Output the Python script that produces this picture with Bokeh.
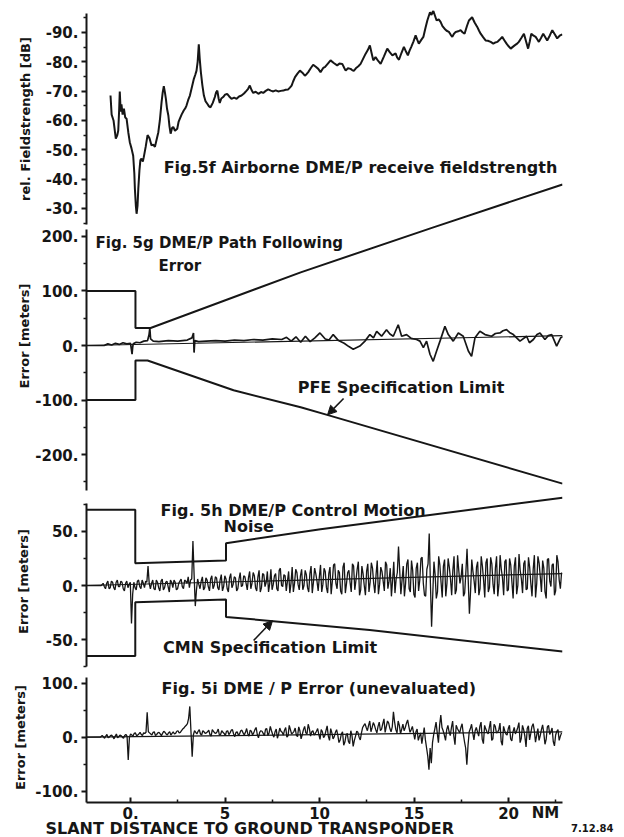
import numpy as np
from bokeh.plotting import figure
from bokeh.layouts import column, row
from bokeh.models import Range1d, FixedTicker, Label, Arrow, NormalHead
from bokeh.embed import file_html
from bokeh.resources import INLINE

FONT = "DejaVu Sans"
INK = "#161616"

X_START, X_END = -2.33, 22.85

# ---------------- data ----------------
dist_ticks = [0, 5, 10, 15, 20]
dist_minor = [2.5, 7.5, 12.5, 17.5, 22.5]
dist_labels = ["0.", "5", "10", "15", "20"]

# Fig 5f: receive fieldstrength (dB)
fs_ticks = [-90, -80, -70, -60, -50, -40, -30]
fs_minor = [-95, -85, -75, -65, -55, -45, -35, -25]
fs_labels = ["-90.", "-80.", "-70.", "-60.", "-50.", "-40.", "-30."]
fs_trace = [(-1.06,-68.5),(-1.0,-62),(-0.9,-60),(-0.78,-53.8),(-0.7,-55),(-0.65,-56.6),(-0.6,-64),(-0.57,-69.9),
    (-0.52,-63),(-0.48,-65.5),(-0.42,-62),(-0.35,-64),(-0.28,-61),(-0.21,-60.6),(-0.12,-56),(-0.04,-52.6),
    (0.05,-50.5),(0.14,-48),(0.2,-42),(0.23,-36.7),(0.28,-31),(0.32,-28.2),(0.37,-31),(0.41,-36.7),(0.47,-43),
    (0.52,-46.5),(0.58,-47),(0.65,-46),(0.70,-47.5),(0.8,-51),(0.9,-55),(1.0,-54),(1.11,-51.5),(1.2,-51.8),
    (1.29,-51),(1.38,-53.5),(1.47,-56),(1.55,-60),(1.64,-66.2),(1.7,-69.5),(1.76,-71.7),(1.82,-69.5),(1.87,-67.4),
    (1.93,-64),(2.0,-61.7),(2.06,-58),(2.12,-55.5),(2.2,-57.5),(2.26,-57.8),(2.35,-56.5),(2.47,-57.2),(2.54,-59.5),
    (2.61,-60.6),(2.7,-62),(2.82,-63.5),(2.9,-64.2),(2.96,-65.1),(3.05,-67),(3.14,-68.5),(3.25,-71.5),(3.35,-74.2),
    (3.42,-75.5),(3.49,-77),(3.55,-80),(3.61,-86),(3.66,-81),(3.72,-76.5),(3.8,-72),(3.88,-68.5),(3.97,-66.5),
    (4.06,-65.7),(4.15,-64.8),(4.23,-64.5),(4.35,-66),(4.46,-68),(4.52,-69.5),(4.59,-70.2),(4.66,-67.5),(4.72,-66),
    (4.8,-67.5),(4.9,-68),(5.0,-68.8),(5.11,-69.1),(5.22,-68.2),(5.34,-67.4),(5.48,-67.8),(5.61,-67.4),(5.74,-68.2),
    (5.87,-68.5),(6.0,-69.2),(6.14,-70.2),(6.22,-70.8),(6.31,-71.9),(6.4,-70.4),(6.49,-69.4),(6.62,-69.8),(6.76,-69.1),
    (6.9,-69.7),(7.02,-69.4),(7.15,-70.1),(7.28,-70.6),(7.42,-70.2),(7.55,-69.9),(7.68,-70.3),(7.81,-69.9),(7.95,-70.1),
    (8.08,-70.2),(8.2,-70.5),(8.34,-70.6),(8.43,-71.2),(8.52,-71.9),(8.6,-73.3),(8.7,-74.8),(8.83,-76),(8.96,-77),
    (9.09,-76.3),(9.22,-75.3),(9.31,-75.8),(9.4,-76.5),(9.53,-77.8),(9.66,-79),(9.8,-78.3),(9.93,-77.6),(10.05,-76.5),
    (10.2,-78),(10.28,-78.2),(10.45,-79.5),(10.58,-80.5),(10.75,-79.6),(10.93,-78.8),(11.05,-79.4),(11.2,-79.3),
    (11.3,-78),(11.38,-77),(11.5,-77.8),(11.64,-77.6),(11.72,-77.2),(11.81,-76.9),(11.95,-78),(12.05,-78.5),
    (12.17,-79.3),(12.3,-81),(12.43,-82.7),(12.55,-84),(12.66,-85.6),(12.75,-83),(12.84,-80.5),(12.96,-81.6),
    (13.1,-80.3),(13.23,-79.3),(13.4,-81.8),(13.58,-84.5),(13.72,-83.2),(13.85,-82.2),(14.02,-82.9),(14.1,-81.5),
    (14.2,-80.7),(14.33,-83),(14.46,-85.1),(14.57,-83.5),(14.67,-82.2),(14.76,-83.8),(14.85,-85.1),(14.97,-87),
    (15.08,-89),(15.17,-87.5),(15.25,-86.2),(15.37,-87.4),(15.49,-88.5),(15.6,-91.5),(15.7,-94.1),(15.84,-96.9),
    (15.92,-96),(16.01,-97.5),(16.1,-95.8),(16.19,-94.1),(16.3,-94.5),(16.4,-93.6),(16.5,-92.2),(16.61,-91.3),
    (16.72,-90.6),(16.84,-90.2),(16.93,-89.3),(17.02,-88.5),(17.1,-89.5),(17.2,-90.2),(17.33,-90.4),(17.46,-90.8),
    (17.56,-90.1),(17.67,-89.6),(17.8,-92.3),(17.9,-94.1),(18.07,-95.2),(18.2,-93.4),(18.34,-91.9),(18.43,-90.7),
    (18.52,-89.6),(18.65,-88.4),(18.78,-87.3),(18.9,-87.2),(19.05,-86.8),(19.19,-86.2),(19.3,-86.6),(19.4,-86.8),
    (19.52,-87.5),(19.66,-88.5),(19.78,-87.3),(19.89,-86.2),(20.0,-85.3),(20.11,-84.5),(20.22,-85.1),(20.32,-85.6),
    (20.43,-86.1),(20.54,-86.8),(20.68,-88.2),(20.81,-89.6),(20.92,-87),(21.03,-84.5),(21.12,-87),(21.2,-89.6),
    (21.3,-89),(21.43,-88.5),(21.52,-87.6),(21.6,-86.8),(21.72,-88.2),(21.83,-89.6),(21.94,-88.4),(22.04,-87.3),
    (22.18,-89),(22.31,-90.8),(22.44,-89.4),(22.57,-88),(22.7,-88.9),(22.84,-89.4)]

# Fig 5g: path following error (m)
pfe_ticks = [-200, -100, 0, 100, 200]
pfe_minor = [-250, -150, -50, 50, 150]
pfe_labels = ["-200.", "-100.", "0.", "100.", "200."]
pfe_upper = [(-2.33,100),(0.26,100),(0.26,32),(1.06,32),(9.0,134),(15.9,215),(22.85,295)]
pfe_lower = [(-2.33,-100),(0.26,-100),(0.26,-27.5),(0.9,-27.5),(5.45,-82),(9.0,-113),(10.4,-127),(22.85,-253)]
pfe_trend = [(-2.33,0),(22.85,18)]
pfe_trace = [(-2.33,0),(-1.4,0),(-1.2,3),(-1.0,1),(-0.8,4),(-0.6,2),(-0.4,5),(-0.2,3),(0.0,4),(0.08,-16),
    (0.11,-4),(0.14,3),(0.3,6),(0.5,5),(0.7,8),(0.9,9),(0.98,20),(1.02,32),(1.06,12),(1.2,8),(1.5,7),(2.0,9),
    (2.5,8),(3.0,10),(3.25,14),(3.33,23),(3.36,-13),(3.4,9),(3.6,7),(4.0,8),(4.5,9),(5.0,8),(5.5,10),(6.0,9),
    (6.5,11),(7.0,10),(7.5,12),(8.0,11),(8.25,15),(8.5,8),(8.75,16),(9.0,6),(9.25,17),(9.5,7),(9.75,14),
    (10.02,23),(10.3,12),(10.5,10),(10.72,20),(11.0,9),(11.3,4),(11.55,-2),(11.78,-7),(12.13,-1),(12.4,8),
    (12.66,20),(12.85,14),(13.02,26),(13.28,17),(13.54,29),(13.72,21),(13.9,17),(14.16,38),(14.34,17),(14.6,20),
    (14.85,13),(15.13,11),(15.31,8),(15.49,-4),(15.66,8),(15.84,-16),(16.01,-29),(16.19,-10),(16.37,8),
    (16.63,35),(16.81,20),(17.07,8),(17.34,23),(17.6,17),(17.87,-10),(18.04,-20),(18.22,14),(18.48,26),
    (18.75,20),(19.1,17),(19.3,22),(19.54,23),(19.7,27),(19.89,29),(20.05,24),(20.25,20),(20.6,8),(20.95,17),
    (21.1,5),(21.31,11),(21.5,20),(21.66,23),(21.92,11),(22.1,18),(22.28,20),(22.54,-1),(22.75,14),(22.93,17)]

# Fig 5h: control motion noise (m)
cmn_ticks = [-50, 0, 50]
cmn_minor = [-75, -25, 25, 75]
cmn_labels = ["-50.", "0.", "50."]
cmn_upper = [(-2.33,70),(0.25,70),(0.25,20.5),(5.05,23),(5.05,39),(10.05,52),(22.85,81)]
cmn_lower = [(-2.33,-65),(0.25,-65),(0.25,-15.5),(5.05,-13),(5.05,-29),(12.65,-41),(22.85,-61)]
cmn_trend = [(-2.33,0),(22.85,11)]
cmn_lead = [(-2.33,0),(-1.55,0)]
cmn_first, cmn_last = -1.45, 22.8
# samples on the main grid
cmn_noise = [2,-3,4,-2,3,-4,5,-1,3,-5,4,1,
    -35,
    3,-4,5,-3,2,4,
    18,
    -3,5,-4,3,-5,6,-2,4,-6,3,5,-4,2,6,-3,4,8,5,
    41,-19,
    6,-3,8,-2,5,-5,9,0,7,-4,10,-1,6,-6,11,1,7,-3,12,0,8,
    -4,13,2,9,-5,14,-2,10,3,-6,15,1,11,-5,16,-1,9,4,-7,17,2,12,-4,15,0,10,-6,18,3,11,
    -5,19,1,13,-7,17,4,20,-3,12,-8,21,2,14,-6,18,5,22,-4,11,-9,20,3,16,-7,23,1,13,-5,19,
    4,-10,22,6,
    36,
    -8,18,2,24,-6,14,-11,21,5,26,-9,15,
    48,-38,
    22,-12,27,3,18,-10,25,6,14,-8,28,2,20,-7,
    34,-26,
    24,4,17,-9,27,5,21,-6,26,1,16,-10,28,7,22,-5,25,3,18,-8,29,6,20,-4,26,2,15,-11,27,8,
    23,-6,24,4,19,-9,28,5,12]
# samples half-way between the main grid points
cmn_noise_mid = [-1,2,-3,4,-2,3,-1,4,-3,2,-2,
    3,-8,
    -2,4,-1,5,-2,
    3,2,
    2,-3,5,-2,4,-4,3,-1,5,-2,3,-3,4,-1,5,2,-2,
    6,10,-4,
    1,4,-4,7,-1,6,-3,8,-2,5,-5,9,-3,7,-2,8,-5,6,-1,9,
    2,
    7,-3,12,-2,8,-6,11,-1,13,2,-4,9,-3,14,0,10,-5,13,2,-6,15,1,9,-4,14,-2,11,-7,16,
    4,
    8,-6,16,-2,11,-8,19,2,14,-5,17,-7,12,3,20,-4,15,-9,18,0,13,-6,21,2,10,-8,17,4,22,
    -3,
    16,5,-7,
    12,14,
    5,-10,20,-3,23,-8,16,-5,25,2,-10,
    20,2,-8,
    10,-6,19,-11,24,2,17,-9,27,-4,14,8,-10,
    12,5,-5,
    13,-7,22,-3,18,-11,25,-2,20,-8,27,1,15,-9,24,-4,19,-12,26,0,14,-7,23,-3,17,-10,28,2,21,-6,
    16,-12,25,-1,20,-5,22,-3]

# Fig 5i: unevaluated error (m)
err_ticks = [-100, 0, 100]
err_minor = [-50, 50]
err_labels = ["-100.", "0.", "100."]
err_trend = [(-2.33,0),(22.85,10)]
err_lead = [(-2.33,0),(-1.6,0)]
err_first, err_last = -1.5, 22.8
err_noise = [3,-2,5,0,4,-3,6,1,3,-2,5,
    -42,
    6,2,8,4,9,3,7,
    46,
    8,4,10,5,9,3,11,6,8,4,10,7,12,9,15,20,
    25,57,-36,
    12,6,14,4,10,8,13,2,11,7,15,5,9,3,12,8,14,1,10,6,13,4,
    16,2,11,8,18,-1,12,7,15,3,20,5,10,-2,17,9,13,0,22,6,11,4,19,-3,14,8,24,2,12,7,
    16,-4,10,3,21,-6,8,1,14,-10,6,-15,4,-8,12,-17,2,9,-5,18,
    25,12,30,18,22,8,28,15,34,20,26,10,47,14,30,6,24,18,32,9,
    20,-4,15,2,-12,18,-20,
    -60,-48,
    5,28,-10,41,12,-6,22,3,30,-14,16,8,25,-8,
    -51,
    10,24,-5,18,2,28,-12,15,6,30,-3,20,9,26,-15,12,4,22,-7,18,
    11,27,-2,14,-18,21,7,25,-9,16,3,23,-13,19,5,17,-16,11,-6,8]
err_noise_mid = [1,2,-1,3,1,2,-1,4,0,3,2,
    0,
    4,7,3,6,5,8,
    9,10,
    6,9,3,8,6,7,9,4,10,7,6,11,8,12,17,
    22,35,10,4,
    9,11,6,12,7,10,5,14,8,10,4,12,7,11,5,13,6,9,4,12,8,
    9,
    6,13,4,14,5,9,11,3,16,8,12,0,15,6,11,4,18,3,14,8,17,1,12,5,20,6,16,10,4,
    11,
    5,14,-1,12,2,16,-3,9,4,-5,10,-9,7,-12,3,-6,11,0,8,
    22,
    18,22,10,27,14,20,12,25,9,30,16,19,28,8,22,15,12,26,20,
    14,
    8,10,-6,8,3,-5,
    -35,-20,-10,
    16,8,22,18,4,14,10,18,2,22,12,18,6,
    -20,-15,
    16,8,12,10,20,-4,22,10,18,-6,24,8,14,-8,20,6,16,-3,10,6,18,-10,22,2,16,-5,20,12,4,-6,
    14,8,-4,22,10,-8,4,14,2]


def xy(pairs):
    return [p[0] for p in pairs], [p[1] for p in pairs]


def noise_xy(lead, first, last, vals, mids):
    xa = np.linspace(first, last, len(vals))
    xb = (xa[:-1] + xa[1:]) / 2.0
    xs, ys = [], []
    for k in range(len(vals)):
        xs.append(float(xa[k]))
        ys.append(vals[k])
        if k < len(xb) and k < len(mids):
            xs.append(float(xb[k]))
            ys.append(mids[k])
    lx, ly = xy(lead)
    return lx + xs, ly + ys


def make_panel(h, y0, y1, top, bottom, x_axis=False):
    p = figure(width=620, height=h, x_range=Range1d(X_START, X_END), y_range=Range1d(y0, y1),
               output_backend="svg", toolbar_location=None,
               x_axis_location="below" if x_axis else None,
               min_border_left=86, min_border_right=58, min_border_top=top, min_border_bottom=bottom,
               outline_line_color=None, background_fill_color=None, border_fill_color=None)
    p.grid.visible = False
    return p


def style_y(p, ticks, minor, labels, bounds, label, standoff):
    ax = p.yaxis[0]
    ax.ticker = FixedTicker(ticks=ticks, minor_ticks=minor)
    ax.major_label_overrides = dict(zip(ticks, labels))
    ax.bounds = bounds
    ax.axis_line_width = 2
    ax.axis_line_color = INK
    ax.major_tick_out = 5
    ax.major_tick_in = 0
    ax.major_tick_line_width = 2
    ax.major_tick_line_color = INK
    ax.minor_tick_out = 3
    ax.minor_tick_in = 0
    ax.minor_tick_line_width = 1.5
    ax.minor_tick_line_color = INK
    ax.major_label_standoff = 3
    ax.major_label_text_font = FONT
    ax.major_label_text_font_size = "15px"
    ax.major_label_text_font_style = "bold"
    ax.major_label_text_color = INK
    ax.axis_label = label
    ax.axis_label_text_font = FONT
    ax.axis_label_text_font_size = "13px"
    ax.axis_label_text_font_style = "bold"
    ax.axis_label_text_color = INK
    ax.axis_label_standoff = standoff


def text(p, x, y, s, size="16px", **kw):
    p.add_layout(Label(x=x, y=y, text=s, text_font=FONT, text_font_size=size,
                       text_font_style="bold", text_color=INK, text_baseline="middle", **kw))


# ---------------- Fig 5f ----------------
pf = make_panel(227, -23.52, -97.5, 10, 0)
style_y(pf, fs_ticks, fs_minor, fs_labels, (-96.5, -24.5), "rel. Fieldstrength [dB]", 10)
fx, fy = xy(fs_trace)
pf.line(fx, fy, line_color=INK, line_width=2)
text(pf, 1.75, -44.0, "Fig.5f Airborne DME/P receive fieldstrength")

# ---------------- Fig 5g ----------------
pg = make_panel(311, -267.4, 302.2, 0, 0)
pg.margin = (-47, 0, 0, 0)
style_y(pg, pfe_ticks, pfe_minor, pfe_labels, (-265, 212), "Error [meters]", 0)
for series in (pfe_upper, pfe_lower):
    sx, sy = xy(series)
    pg.line(sx, sy, line_color=INK, line_width=2)
tx, ty = xy(pfe_trend)
pg.line(tx, ty, line_color=INK, line_width=1.2)
gx, gy = xy(pfe_trace)
pg.line(gx, gy, line_color=INK, line_width=1.7)
text(pg, -1.85, 188.6, "Fig. 5g DME/P Path Following", size="15px")
text(pg, 1.48, 144.7, "Error", size="15px")
text(pg, 8.84, -77, "PFE Specification Limit")
pg.add_layout(Arrow(end=NormalHead(size=9, fill_color=INK, line_color=INK, line_width=1),
                    x_start=11.27, y_start=-97, x_end=10.42, y_end=-127,
                    line_color=INK, line_width=1.6))

# ---------------- Fig 5h ----------------
ph = make_panel(177, -76.64, 84.03, 3, 0)
style_y(ph, cmn_ticks, cmn_minor, cmn_labels, (-74.5, 75.5), "Error [meters]", 12)
for series in (cmn_upper, cmn_lower):
    sx, sy = xy(series)
    ph.line(sx, sy, line_color=INK, line_width=2)
tx, ty = xy(cmn_trend)
ph.line(tx, ty, line_color=INK, line_width=1.2)
hx, hy = noise_xy(cmn_lead, cmn_first, cmn_last, cmn_noise, cmn_noise_mid)
ph.line(hx, hy, line_color=INK, line_width=1.3)
text(ph, 1.59, 69.3, "Fig. 5h DME/P Control Motion")
text(ph, 4.92, 54.5, "Noise")
text(ph, 1.72, -57.2, "CMN Specification Limit")
ph.add_layout(Arrow(end=NormalHead(size=9, fill_color=INK, line_color=INK, line_width=1),
                    x_start=6.51, y_start=-50.8, x_end=7.51, y_end=-32.5,
                    line_color=INK, line_width=1.6))

# ---------------- Fig 5i ----------------
pi = make_panel(169, -120.9, 119.8, 4, 35, x_axis=True)
style_y(pi, err_ticks, err_minor, err_labels, (-120.9, 110), "Error [meters]", 4)
xa = pi.xaxis[0]
xa.ticker = FixedTicker(ticks=dist_ticks, minor_ticks=dist_minor)
xa.major_label_overrides = dict(zip(dist_ticks, dist_labels))
xa.axis_line_width = 2
xa.axis_line_color = INK
xa.major_tick_in = 5
xa.major_tick_out = 0
xa.major_tick_line_width = 2
xa.major_tick_line_color = INK
xa.minor_tick_in = 3
xa.minor_tick_out = 0
xa.minor_tick_line_width = 1.5
xa.minor_tick_line_color = INK
xa.major_label_standoff = 4
xa.major_label_text_font = FONT
xa.major_label_text_font_size = "15px"
xa.major_label_text_font_style = "bold"
xa.major_label_text_color = INK
tx, ty = xy(err_trend)
pi.line(tx, ty, line_color=INK, line_width=1.2)
ix, iy = noise_xy(err_lead, err_first, err_last, err_noise, err_noise_mid)
pi.line(ix, iy, line_color=INK, line_width=1.3)
text(pi, 1.64, 90.2, "Fig. 5i DME / P Error (unevaluated)")

# ---------------- footer texts (strip overlapping the bottom of Fig 5i) ----------------
foot = figure(width=620, height=35, x_range=Range1d(0, 620), y_range=Range1d(0, 35),
              output_backend="svg", toolbar_location=None,
              x_axis_location=None, y_axis_location=None,
              min_border_left=0, min_border_right=0, min_border_top=0, min_border_bottom=0,
              outline_line_color=None, background_fill_color=None, border_fill_color=None)
foot.grid.visible = False
foot.add_layout(Label(x=545, y=25, x_units="screen", y_units="screen", text="NM", text_font=FONT,
                      text_font_size="15px", text_font_style="bold", text_color=INK,
                      text_align="center", text_baseline="middle"))
foot.add_layout(Label(x=45, y=9, x_units="screen", y_units="screen",
                      text="SLANT DISTANCE TO GROUND TRANSPONDER", text_font=FONT,
                      text_font_size="16px", text_font_style="bold", text_color=INK,
                      text_baseline="middle"))
foot.add_layout(Label(x=613, y=10, x_units="screen", y_units="screen", text="7.12.84",
                      text_font=FONT, text_font_size="10px", text_font_style="bold", text_color=INK,
                      text_align="right", text_baseline="middle"))
foot_row = row(foot, margin=(-35, 0, 0, 0))

layout = column(pf, pg, ph, pi, foot_row, spacing=0)
open("out.html", "w").write(file_html(layout, INLINE))
